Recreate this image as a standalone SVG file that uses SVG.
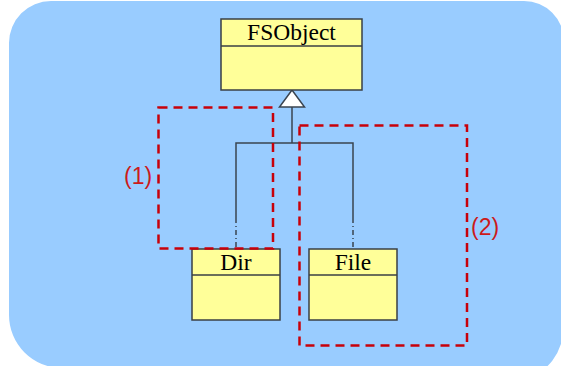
<svg xmlns="http://www.w3.org/2000/svg" width="561" height="366" viewBox="0 0 561 366">
  <style>
    .cls rect, .cls line { fill: #FFFF99; stroke: #3a3f45; stroke-width: 1.5; }
    .name { font-family: "Liberation Serif", "Times New Roman", serif; font-size: 23.5px; fill: #000; text-anchor: middle; }
    .conn { stroke: #3a4450; stroke-width: 1.5; fill: none; }
    .dd { stroke-dasharray: 5 3 1 3; }
    .note { fill: none; stroke: #C8000A; stroke-width: 2.5; stroke-dasharray: 9 6; }
    .lbl { font-family: "Liberation Sans", Arial, sans-serif; font-size: 23px; fill: #CC1A1A; }
  </style>
  <rect width="561" height="366" fill="#ffffff"/>
  <path d="M 9,43 A 42 42 0 0 1 51,1 L 524,1 A 40 40 0 0 1 564,41 L 564,324 A 40 52 0 0 1 524,376 L 62,376 L 62,368 A 53 53 0 0 1 9,315 Z" fill="#99CCFF"/>

  <g id="connectors">
    <line class="conn" x1="292" y1="107" x2="292" y2="143"/>
    <polyline class="conn" points="236,218 236,143 353,143 353,218"/>
    <line class="conn dd" x1="236" y1="218" x2="236" y2="249"/>
    <line class="conn dd" x1="353" y1="218" x2="353" y2="249"/>
    <polygon points="292,90 279.5,107 304.5,107" fill="#ffffff" stroke="#3a4450" stroke-width="1.5"/>
  </g>

  <g id="FSObject" class="cls">
    <rect x="221" y="19" width="141" height="71"/>
    <line x1="221" y1="46" x2="362" y2="46"/>
    <text class="name" x="291.5" y="39.5">FSObject</text>
  </g>

  <g id="Dir" class="cls">
    <rect x="192" y="249" width="88" height="71"/>
    <line x1="192" y1="275" x2="280" y2="275"/>
    <text class="name" x="236" y="269.5">Dir</text>
  </g>

  <g id="File" class="cls">
    <rect x="309" y="249" width="88" height="71"/>
    <line x1="309" y1="275" x2="397" y2="275"/>
    <text class="name" x="353" y="269.5">File</text>
  </g>

  <g id="annotation1">
    <rect class="note" x="158.5" y="107.5" width="114.5" height="141"/>
    <text class="lbl" x="124" y="184">(1)</text>
  </g>

  <g id="annotation2">
    <rect class="note" x="299.5" y="125.5" width="167.5" height="220"/>
    <text class="lbl" x="471" y="235">(2)</text>
  </g>
</svg>
